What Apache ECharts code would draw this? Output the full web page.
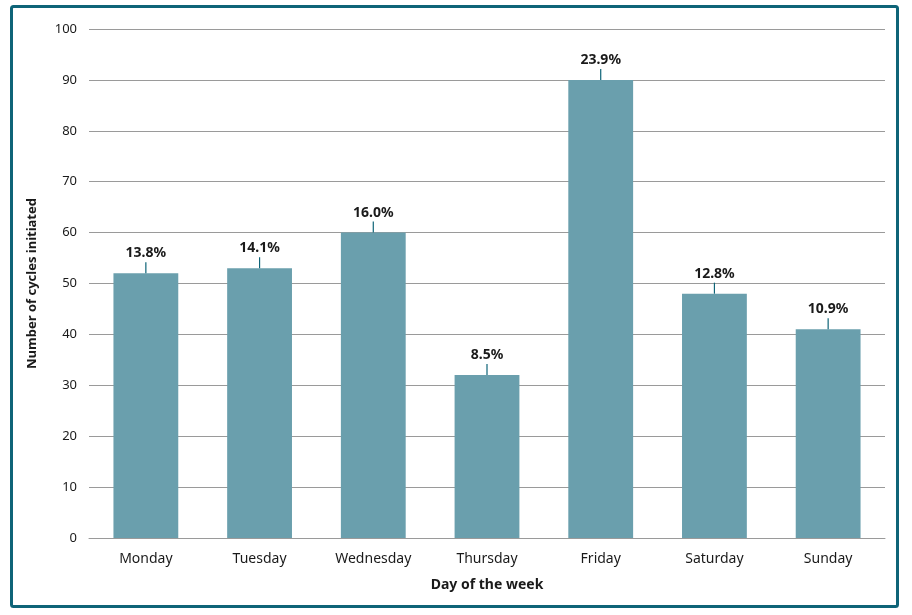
<!DOCTYPE html>
<html><head><meta charset="utf-8">
<script src="https://cdn.jsdelivr.net/npm/echarts@6/dist/echarts.min.js"></script>
<style>html,body{margin:0;padding:0;background:#fff}#c{width:912px;height:615px}</style>
</head><body><div id="c"></div>
<script>
const categories = ['Monday','Tuesday','Wednesday','Thursday','Friday','Saturday','Sunday'];
const values = [52, 53, 60, 32, 90, 48, 41];
const percentLabels = ['13.8%','14.1%','16.0%','8.5%','23.9%','12.8%','10.9%'];
const yTicks = {min: 0, max: 100, interval: 10};

const chart = echarts.init(document.getElementById('c'));
const font = '"Noto Sans", sans-serif';
chart.setOption({
  animation: false,
  graphic: [{
    type: 'rect', shape: {x: 11.5, y: 6.5, width: 886, height: 600, r: 2},
    style: {fill: 'none', stroke: '#0e6478', lineWidth: 3}, z: 100
  }],
  grid: {left: 89, right: 27, top: 29, bottom: 77, containLabel: false},
  xAxis: {
    type: 'category', data: categories,
    axisLine: {lineStyle: {color: '#9a9a9a', width: 1}},
    axisTick: {show: false},
    axisLabel: {color: '#1a1a1a', fontFamily: font, fontSize: 14, margin: 14},
    name: 'Day of the week', nameLocation: 'middle', nameGap: 40,
    nameTextStyle: {color: '#1a1a1a', fontFamily: font, fontSize: 14, fontWeight: 'bold'}
  },
  yAxis: {
    type: 'value', min: yTicks.min, max: yTicks.max, interval: yTicks.interval,
    axisLine: {show: false}, axisTick: {show: false},
    splitLine: {lineStyle: {color: '#9a9a9a', width: 1}},
    axisLabel: {color: '#1a1a1a', fontFamily: font, fontSize: 13, margin: 12},
    name: 'Number of cycles initiated', nameLocation: 'middle', nameGap: 50, nameRotate: 90,
    nameTextStyle: {color: '#1a1a1a', fontFamily: font, fontSize: 13, fontWeight: 'bold'}
  },
  series: [{
    type: 'bar', data: values, barWidth: '57%',
    itemStyle: {color: '#6a9fad'}
  }, {
    type: 'custom', data: values.map((v, i) => [i, v]),
    renderItem: function (params, api) {
      const p = api.coord([api.value(0), api.value(1)]);
      const i = params.dataIndex;
      return {
        type: 'group', children: [
          {type: 'line', shape: {x1: p[0], y1: p[1], x2: p[0], y2: p[1] - 11},
           style: {stroke: '#0e6478', lineWidth: 1.2}},
          {type: 'text', style: {x: p[0], y: p[1] - 13, text: percentLabels[i],
            textAlign: 'center', textVerticalAlign: 'bottom',
            fill: '#1a1a1a', font: 'bold 14px "Noto Sans", sans-serif'}}
        ]
      };
    },
    z: 5
  }]
});
</script></body></html>
